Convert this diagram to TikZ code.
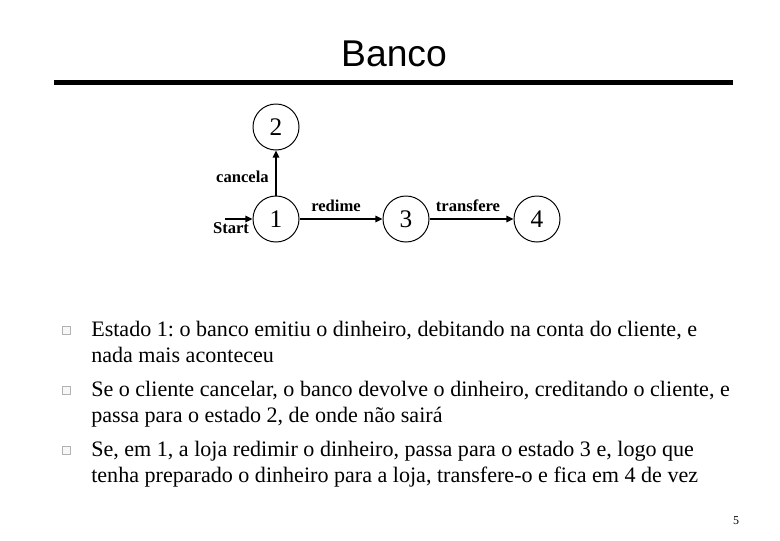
\documentclass[tikz,border=0pt]{standalone}
\usepackage{fontspec}
\setmainfont{Liberation Serif}
\newfontfamily\titlefont{Liberation Sans}
\usetikzlibrary{arrows.meta, positioning}
\frenchspacing

\begin{document}
\begin{tikzpicture}[x=0.025cm, y=-0.025cm,
      st/.style={draw, circle, line width=0.7pt, minimum size=1.15cm, inner sep=0pt, font=\fontsize{18}{19}\selectfont},
      tr/.style={-{Triangle[length=5pt, width=4.5pt]}, line width=1.4pt},
      lab/.style={inner sep=0pt, font=\fontsize{11.8}{12}\selectfont\bfseries},
      bul/.style={draw=gray!60, fill=gray!6, line width=0.6pt, minimum size=0.2cm, inner sep=0pt},
      txt/.style={inner sep=0pt, anchor=base west, font=\fontsize{15.7}{18.5}\selectfont}]
    \useasboundingbox (0,0) rectangle (780,540);
    % title
    \node[font=\titlefont\fontsize{26.5}{28}\selectfont, anchor=base] (title) at (394,66.5) {Banco};
    \coordinate (rl) at (54,82.5);
    \coordinate (rr) at (733,82.5);
    \draw[line width=3.5pt] (rl) -- (rr);
    % automaton
    \node[st] (s2) at (276,127) {2};
    \node[st] (s1) at (276,219) {1};
    \node[st] (s3) at (406,219) {3};
    \node[st] (s4) at (537,219) {4};
    \coordinate (start) at (225,219);
    \draw[tr] (start) -- (s1);
    \draw[tr] (s1) -- (s2);
    \draw[tr] (s1) -- (s3);
    \draw[tr] (s3) -- (s4);
    \node[lab, anchor=base] (lstart) at (231,233) {Start};
    \node[lab, anchor=base east] (lcanc) at (269,182) {cancela};
    \node[lab, anchor=base] (lred) at (336,211.5) {redime};
    \node[lab, anchor=base] (ltra) at (468,211.5) {transfere};
    % bullets
    \node[bul] (b1) at (66.5,330) {};
    \node[bul] (b2) at (66.5,390) {};
    \node[bul] (b3) at (66.5,450) {};
    \node[txt] (t1a) at (91,336) {Estado 1: o banco emitiu o dinheiro, debitando na conta do cliente, e};
    \node[txt] (t1b) at (91,362) {nada mais aconteceu};
    \node[txt] (t2a) at (91,396) {Se o cliente cancelar, o banco devolve o dinheiro, creditando o cliente, e};
    \node[txt] (t2b) at (91,422) {passa para o estado 2, de onde não sairá};
    \node[txt] (t3a) at (91,456) {Se, em 1, a loja redimir o dinheiro, passa para o estado 3 e, logo que};
    \node[txt] (t3b) at (91,482) {tenha preparado o dinheiro para a loja, transfere-o e fica em 4 de vez};
    % page number
    \node[inner sep=0pt, anchor=base, font=\fontsize{8.5}{9}\selectfont] (pg) at (736,524) {5};
  \end{tikzpicture}
\end{document}
